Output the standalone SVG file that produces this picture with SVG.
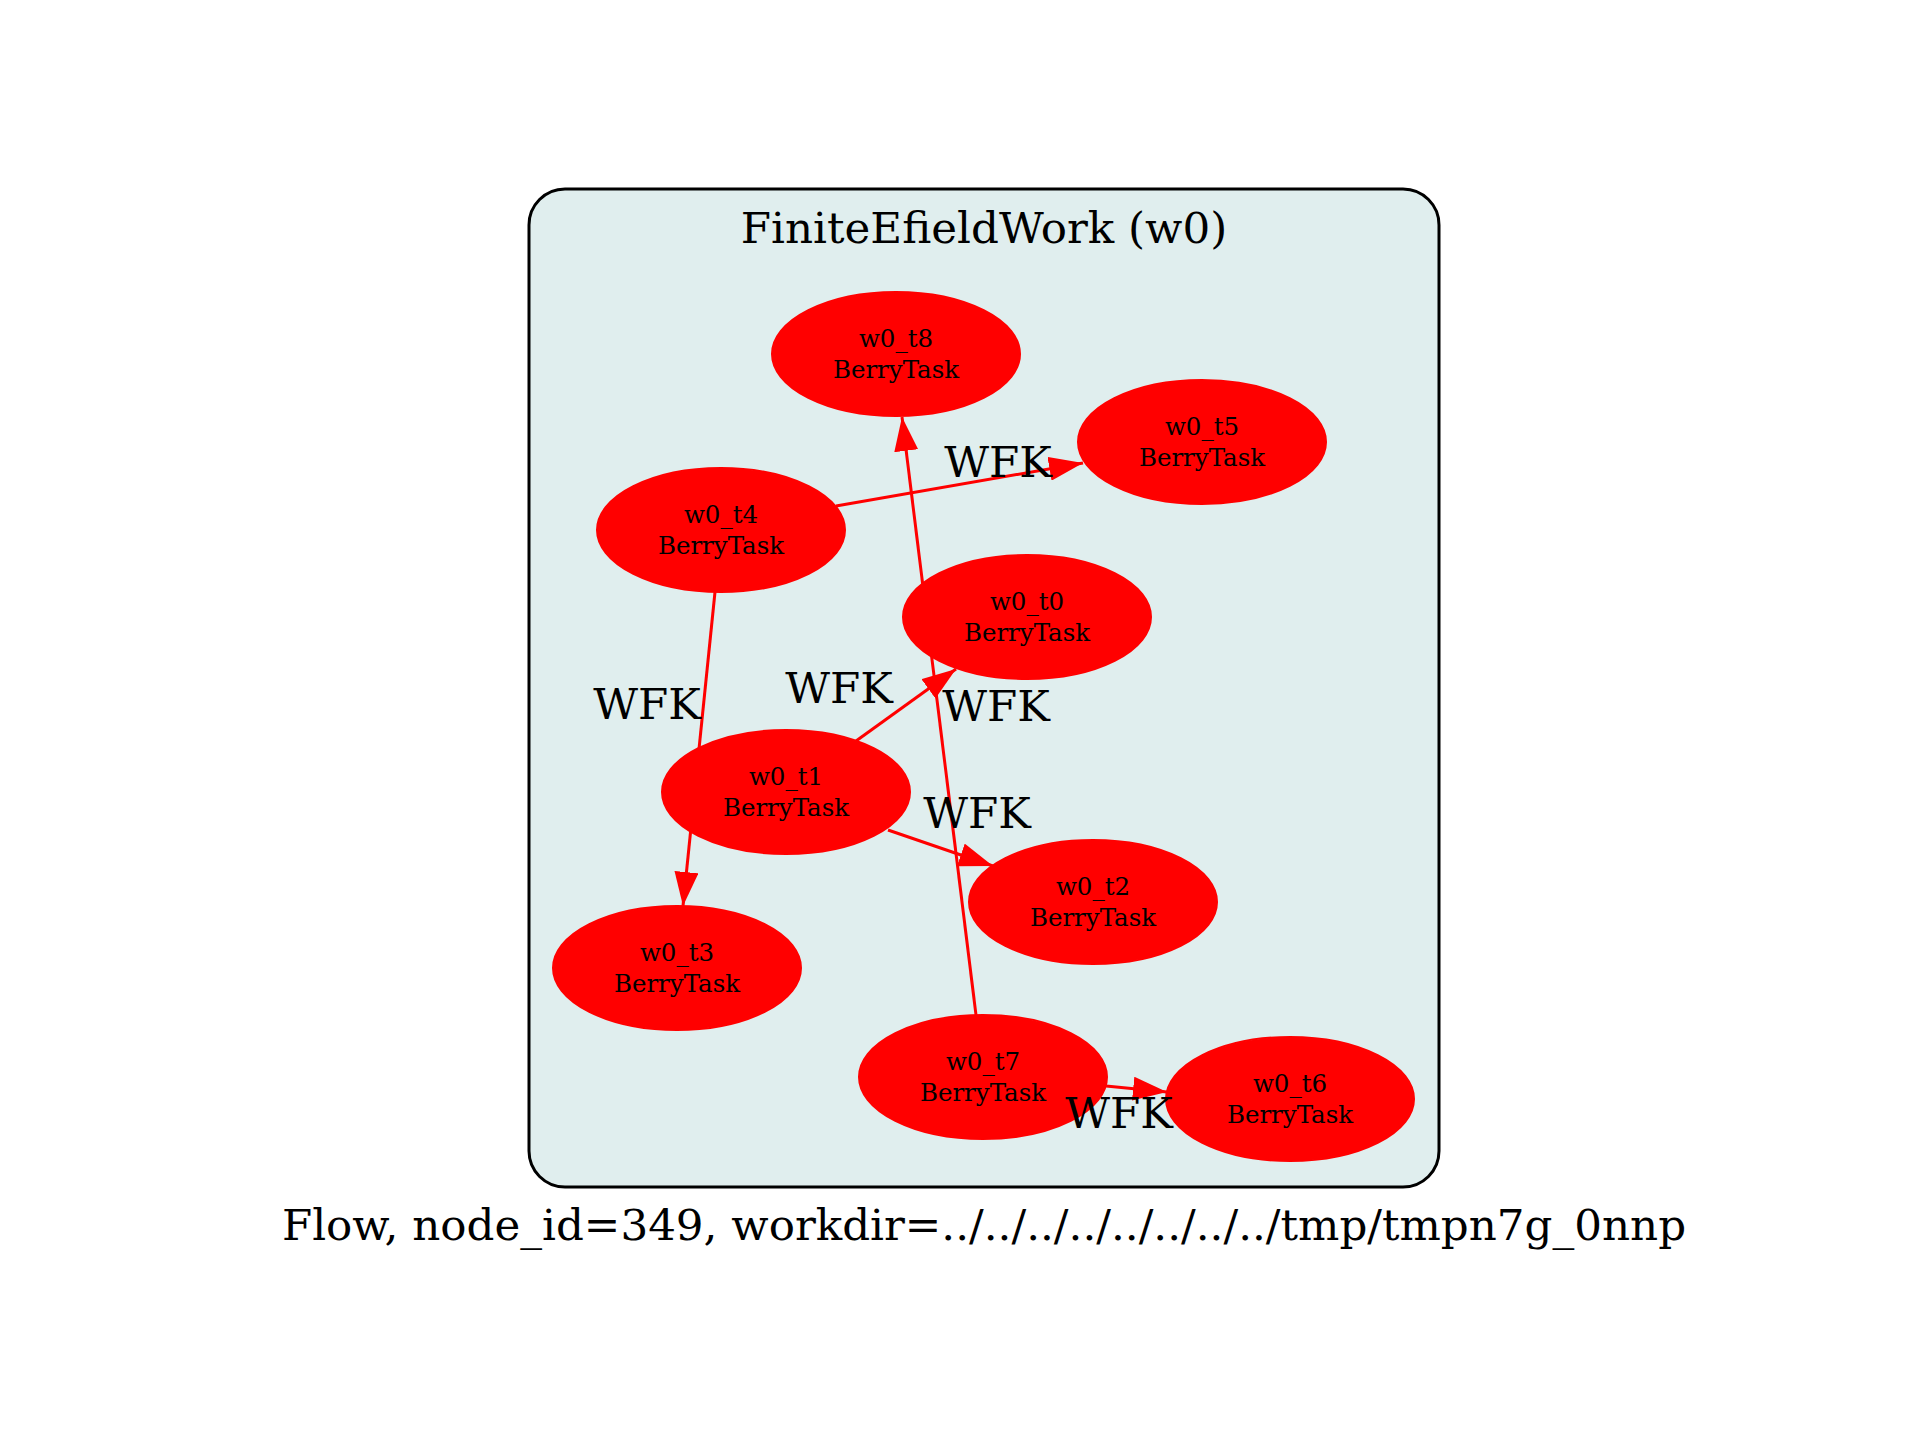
<svg xmlns="http://www.w3.org/2000/svg" width="1920" height="1440" viewBox="0 0 1920 1440">
<style>
.big{font-family:"DejaVu Serif","Liberation Serif",serif;font-size:43.6px;fill:#000;text-anchor:middle}
.nt{font-family:"DejaVu Serif","Liberation Serif",serif;font-size:24.5px;fill:#000;text-anchor:middle}
.node ellipse{fill:#ff0000;stroke:#ff0000;stroke-width:2}
.edge{stroke:#ff0000;stroke-width:3;fill:none;marker-end:url(#arr)}
</style>
<defs>
<marker id="arr" markerUnits="userSpaceOnUse" viewBox="0 0 34 24" refX="34" refY="12" markerWidth="34" markerHeight="24" orient="auto">
<path d="M0,0 L34,12 L0,24 z" fill="#ff0000"/>
</marker>
</defs>
<rect width="1920" height="1440" fill="#fff"/>
<g id="cluster_w0">
<rect x="529" y="189" width="910" height="998" rx="36" ry="36" fill="#e0eeee" stroke="#000" stroke-width="3"/>
<text class="big" x="984" y="243">FiniteEfieldWork (w0)</text>
</g>
<g id="edges">
<line class="edge" x1="836" y1="506" x2="1083" y2="463"/>
<line class="edge" x1="976" y1="1015" x2="902" y2="417"/>
<line class="edge" x1="715" y1="592" x2="683" y2="906"/>
<line class="edge" x1="856" y1="741" x2="956" y2="669"/>
<line class="edge" x1="888" y1="830" x2="993" y2="866"/>
<line class="edge" x1="1106" y1="1086" x2="1167" y2="1092"/>
</g>
<g id="w0_t8" class="node"><ellipse cx="896" cy="354" rx="124" ry="62"/><text class="nt" x="896" y="347">w0_t8</text><text class="nt" x="896" y="378">BerryTask</text></g>
<g id="w0_t5" class="node"><ellipse cx="1202" cy="442" rx="124" ry="62"/><text class="nt" x="1202" y="435">w0_t5</text><text class="nt" x="1202" y="466">BerryTask</text></g>
<g id="w0_t4" class="node"><ellipse cx="721" cy="530" rx="124" ry="62"/><text class="nt" x="721" y="523">w0_t4</text><text class="nt" x="721" y="554">BerryTask</text></g>
<g id="w0_t0" class="node"><ellipse cx="1027" cy="617" rx="124" ry="62"/><text class="nt" x="1027" y="610">w0_t0</text><text class="nt" x="1027" y="641">BerryTask</text></g>
<g id="w0_t1" class="node"><ellipse cx="786" cy="792" rx="124" ry="62"/><text class="nt" x="786" y="785">w0_t1</text><text class="nt" x="786" y="816">BerryTask</text></g>
<g id="w0_t2" class="node"><ellipse cx="1093" cy="902" rx="124" ry="62"/><text class="nt" x="1093" y="895">w0_t2</text><text class="nt" x="1093" y="926">BerryTask</text></g>
<g id="w0_t3" class="node"><ellipse cx="677" cy="968" rx="124" ry="62"/><text class="nt" x="677" y="961">w0_t3</text><text class="nt" x="677" y="992">BerryTask</text></g>
<g id="w0_t7" class="node"><ellipse cx="983" cy="1077" rx="124" ry="62"/><text class="nt" x="983" y="1070">w0_t7</text><text class="nt" x="983" y="1101">BerryTask</text></g>
<g id="w0_t6" class="node"><ellipse cx="1290" cy="1099" rx="124" ry="62"/><text class="nt" x="1290" y="1092">w0_t6</text><text class="nt" x="1290" y="1123">BerryTask</text></g>
<g id="edge_labels">
<text class="big" x="998" y="477">WFK</text>
<text class="big" x="996" y="721">WFK</text>
<text class="big" x="647" y="719">WFK</text>
<text class="big" x="839" y="703">WFK</text>
<text class="big" x="977" y="828">WFK</text>
<text class="big" x="1119" y="1128">WFK</text>
</g>
<text class="big" x="984" y="1240">Flow, node_id=349, workdir=../../../../../../../../tmp/tmpn7g_0nnp</text>
</svg>
